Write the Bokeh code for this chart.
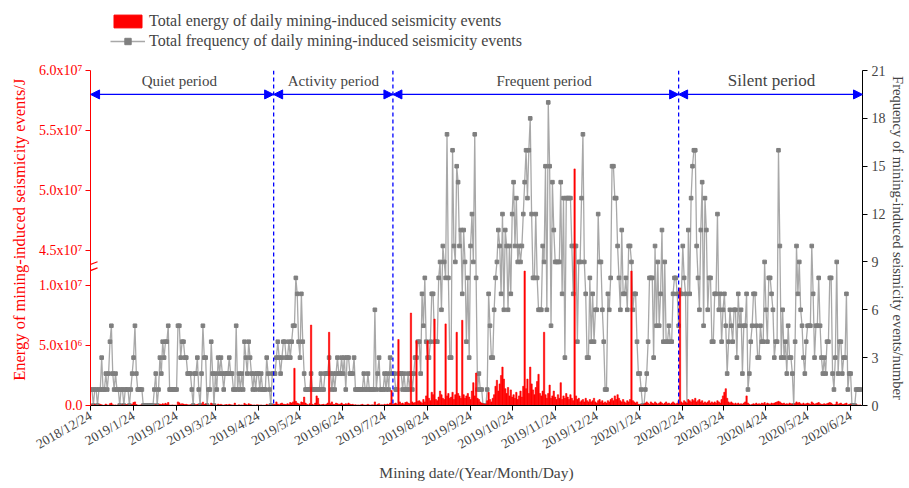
import pandas as pd
from bokeh.plotting import figure
from bokeh.layouts import column
from bokeh.models import (ColumnDataSource, Range1d, LinearAxis, FixedTicker, Span,
                          Arrow, NormalHead, Label, Legend, LegendItem)
from bokeh.embed import file_html
from bokeh.resources import INLINE

# ---------------- data ----------------
start_date = "2018-12-24"

# daily total frequency (events/day)
frequency = [
    1,1,0,1,1,0,1,1,3,1, 1,2,1,2,4,5,2,1,2,1, 1,0,1,1,0,1,1,1,0,1,
    2,3,5,2,1,1,1,1,0,0, 0,0,0,0,0,0,1,2,0,1, 3,2,4,3,4,4,5,1,1,1,
    1,1,1,5,5,3,4,4,3,3, 2,2,2,1,0,2,2,3,1,0, 2,5,3,3,0,1,1,4,2,0,
    2,1,3,2,
    3,2,1,2, 2,2,3,2, 2,1,1,5, 1,2,1,2,1, 4,3,2,4,3,
    2,1,2,1,2,2,1,2,1,1, 1,3,2,1,0,2,
    2,2,3,4,3,2,3,4,4,3,3,4,3,4,5,5, 8,7,4,3,7,4,2, 1,1,1,1,2,1,
    1,1,1,1,1,2,1,1,2,2, 2,3,2,1,2,1,2,3,2,2,3,2,3,
    1,3,3,2,2,2,3, 1,1,1,1,1,1,2,1,1, 2,1,1,1,1,6,1,2,3,1, 1,1,2,1,2,1,3,2,
    2,2,1,1,2,2,2,1,2,1,1,2, 1,2,1,2,3,3,4,4,2,7, 5,8,4,3,3,4,7,7,4,4,
    4,8,9,6,10,9,8,17,8,3, 3,16,10,9,15,14,10,11,7,11, 9,4,8,3,10,12,9,17,
    8,1,2,1,1,0,0,0,1,7,5,3, 3,6,8,9,11,10,7,12,6,11, 10,6,10,7,12,14,10,13,9,10,
    9,10,12,14,16,13,16,18,12,8, 8,12,8,6,6,6,10,9,15,6, 19,15,5,14,11,9,9,9,9,14,
    7,13,3,13,13,13,13,10,7,10, 10,4,9,9,13,17,9,7,3,3, 8,4,7,4,6,6,12,9,9,6,4,1,
    1,7,6,8,15,15,13,13,10,8, 6,11,7,7,8,6,10,10,9,6, 7,7,4,2,2,1,0,0,1,2,
    4,8,8,8,3,10,5,9,5,7, 11,4,9,4,4,5,4,4,7,8, 8,7,5,7,7,10,8,7,0,11,
    7,13,15,16,16,10,8,6,11,14, 5,13,11,6,8,8,4,4,7,7, 12,6,7,4,6,7,5,2,4,6,5,4,6,
    6,3,7,5,6,2,5,5,7,1, 2,4,5,7,7,5,3,3,5,4, 4,9,6,4,8,8,7,6,3,4,
    4,16,10,3,6,3,4,2,5,3, 3,2,0,4,10,7,9,6,5,3, 2,4,5,5,5,10,7,3,5,5,
    8,5,3,2,3,2,4,4,8,8, 2,1,3,9,2,4,4,2,3,3, 7,1,2,2,0,0,0,1,1,1,1,
]

# daily total energy, in units of 10^6 J
energy_1e6 = [
    0.02,0.05,0.0,0.08,0.03,0.0,0.04,0.1,0.06,0.02,
    0.03,0.12,0.05,0.02,0.15,0.2,0.06,0.03,0.05,0.02,
    0.04,0.0,0.03,0.06,0.0,0.05,0.08,0.03,0.0,0.04,
    0.1,0.25,0.3,0.08,0.04,0.02,0.05,0.03,0.0,0.0,
    0.0,0.0,0.0,0.0,0.0,0.0,0.03,0.06,0.0,0.02,
    0.12,0.08,0.15,0.1,0.18,0.12,0.25,0.04,0.03,0.05,
    0.03,0.04,0.02,0.3,0.22,0.1,0.15,0.12,0.08,0.1,
    0.06,0.05,0.07,0.03,0.0,0.05,0.06,0.1,0.03,0.0,
    0.06,0.28,0.1,0.12,0.0,0.03,0.04,0.2,0.06,0.0,
    0.05,0.03,0.12,0.06,0.1,0.05,0.03,0.06,0.08,0.05,
    0.1,0.06,0.05,0.03,0.2,0.03,0.02,0.06,0.03,0.05,
    0.02,0.18,0.1,0.05,0.15,0.1,0.06,0.03,0.05,0.02,
    0.06,0.05,0.03,0.05,0.02,0.03,0.02,0.1,0.05,0.03,
    0.0,0.05,0.08,0.1,0.3,0.12,0.06,0.15,0.2,0.1,
    0.1,0.08,0.15,0.1,0.25,0.2,0.3,3.1,0.35,0.2,
    0.15,0.1,0.3,0.25,0.7,0.2,0.1,0.05,0.15,6.7,
    0.1,0.05,0.2,0.8,0.6,0.1,0.05,0.08,0.1,0.05,
    0.1,0.2,6.1,0.15,0.3,0.1,0.08,0.2,0.15,0.1,
    0.12,0.2,0.1,0.08,0.15,0.1,0.2,0.12,0.08,0.1,
    0.05,0.06,0.04,0.05,0.03,0.06,0.1,0.05,0.04,0.05,
    0.1,0.05,0.04,0.06,0.05,0.3,0.05,0.1,0.15,0.05,
    0.06,0.05,0.1,0.06,0.12,0.08,0.2,1.25,0.1,0.15,
    0.2,0.1,5.5,0.3,0.15,0.2,0.1,0.25,0.3,0.2,
    0.15,7.7,0.3,0.2,0.25,5.4,0.35,0.4,0.3,0.2,
    0.5,0.3,0.8,5.4,0.6,0.4,1.1,0.9,7.2,0.5,
    0.4,0.7,1.2,0.9,0.6,0.5,6.8,0.8,1.0,0.6,
    0.7,1.1,0.5,0.9,6.1,1.0,0.8,0.6,7.1,0.9,
    0.6,0.8,1.0,0.7,0.5,1.2,1.9,0.8,2.7,0.6,
    0.5,0.3,0.2,0.15,0.1,0.1,0.4,1.1,0.5,0.3,
    0.6,0.9,1.6,2.1,1.2,1.8,2.5,3.2,2.2,1.4,
    1.0,1.5,0.8,1.3,0.7,0.9,0.6,1.1,0.5,0.8,
    1.2,0.7,1.6,11.2,1.4,2.2,1.0,3.2,1.8,1.3,
    0.9,1.5,2.0,2.6,1.0,0.8,1.2,6.1,0.9,0.6,
    1.0,1.7,0.6,0.8,1.2,0.7,0.5,0.9,0.6,1.9,
    0.5,0.8,0.6,1.0,0.7,0.5,0.9,0.6,0.4,51.8,
    0.8,0.5,0.6,0.3,0.4,0.5,0.3,0.6,0.4,0.3,
    0.5,0.3,0.4,0.6,0.3,0.2,0.4,0.5,0.3,0.4,
    0.2,0.3,0.2,0.4,0.3,0.5,0.6,0.4,0.8,0.5,
    0.9,0.6,0.4,0.3,0.5,0.3,0.2,0.4,0.3,0.5,
    11.2,0.4,0.3,0.2,0.3,0.1,0.1,0.05,0.05,0.1,
    0.2,0.3,0.2,0.1,0.3,0.2,0.15,0.3,0.2,0.1,
    0.2,0.3,0.2,0.1,0.2,0.3,0.15,0.2,0.1,0.2,
    0.3,0.2,0.1,0.2,0.4,9.8,0.3,0.2,0.4,0.3,
    0.2,0.5,0.4,0.3,0.5,0.4,0.6,0.3,0.4,0.5,
    0.3,0.4,0.2,0.3,0.2,0.3,0.4,0.2,0.3,0.2,
    0.3,0.2,0.4,0.3,0.2,0.5,0.8,1.1,1.4,0.6,
    0.3,0.2,0.3,0.2,0.1,0.2,0.1,0.2,0.1,0.15,
    0.1,0.2,0.3,0.8,0.2,0.1,0.05,0.1,0.15,0.1,
    0.2,0.1,0.15,0.1,0.2,0.15,0.25,0.1,0.2,0.15,
    0.1,0.2,0.15,0.2,0.25,0.3,0.35,0.3,0.2,0.15,
    0.2,0.1,0.15,0.1,0.2,0.15,0.1,0.0,0.15,0.3,
    0.2,0.25,0.15,0.1,0.2,0.1,0.15,0.2,0.15,0.1,
    0.3,0.2,0.1,0.15,0.2,0.25,0.15,0.1,0.1,0.15,
    0.1,0.15,0.2,0.25,0.2,0.1,0.05,0.1,0.3,0.1,
    0.15,0.2,0.1,0.1,0.15,0.2,0.05,0.1,0.1,0.0,
    0.0,0.0,0.05,0.05,0.03,0.05,
]

tick_dates = ["2018-12-24", "2019-01-24", "2019-02-24", "2019-03-24", "2019-04-24",
              "2019-05-24", "2019-06-24", "2019-07-24", "2019-08-24", "2019-09-24",
              "2019-10-24", "2019-11-24", "2019-12-24", "2020-01-24", "2020-02-24",
              "2020-03-24", "2020-04-24", "2020-05-24", "2020-06-24"]
tick_labels = ["2018/12/24", "2019/1/24", "2019/2/24", "2019/3/24", "2019/4/24",
               "2019/5/24", "2019/6/24", "2019/7/24", "2019/8/24", "2019/9/24",
               "2019/10/24", "2019/11/24", "2019/12/24", "2020/1/24", "2020/2/24",
               "2020/3/24", "2020/4/24", "2020/5/24", "2020/6/24"]

energy_ticks = [0.0, 5.0e6, 1.0e7, 4.5e7, 5.0e7, 5.5e7, 6.0e7]
energy_tick_labels = ["0.0", "5.0x10\u2076", "1.0x10\u2077", "4.5x10\u2077",
                      "5.0x10\u2077", "5.5x10\u2077", "6.0x10\u2077"]
freq_ticks = [0, 3, 6, 9, 12, 15, 18, 21]

period_names = ["Quiet period", "Activity period", "Frequent period", "Silent period"]
period_bounds = ["2018-12-24", "2019-05-05", "2019-07-30", "2020-02-21", "2020-07-02 14:00"]
period_label_dates = ["2019-02-26", "2019-06-17", "2019-11-16", "2020-04-28"]

legend_labels = ["Total energy of daily mining-induced seismicity events",
                 "Total frequency of daily mining-induced seismicity events"]

# ---------------- helpers ----------------
S = 0.7523        # axis units per 10^6 J (both segments share the same slope)
TOP = 21.0        # 6.0e7 J sits at the top of the frame


def energy_to_axis(e):
    m = e / 1e6
    if m <= 20:
        return round(m * S, 4)
    return round(TOP - (60.0 - m) * S, 4)


def ms(d):
    return pd.Timestamp(d).value / 1e6


DAY = 86400000.0
dates = pd.date_range(start_date, periods=len(frequency), freq="D")
energy = [v * 1e6 for v in energy_1e6]
src = ColumnDataSource(dict(date=dates, freq=frequency, energy=energy,
                            e_axis=[energy_to_axis(e) for e in energy]))

FONT = "Liberation Serif"
LINE_C = "#a8a8a8"
MARK_C = "#7f7f7f"

x_start = ms(start_date)
x_end = ms(period_bounds[-1])

# ---------------- main chart ----------------
p = figure(width=909, height=428, x_axis_type="datetime",
           x_range=Range1d(x_start - 0.05 * DAY, x_end), y_range=Range1d(0, 21),
           y_axis_location=None, toolbar_location=None, output_backend="svg",
           min_border_left=90, min_border_right=47, min_border_top=10, min_border_bottom=83)
p.outline_line_color = None
p.xgrid.visible = False
p.ygrid.visible = False
p.background_fill_color = "white"
p.border_fill_color = "white"

# frequency line + markers
p.line("date", "freq", source=src, line_color=LINE_C, line_width=1.3)
p.scatter("date", "freq", source=src, marker="square", size=3.6,
          fill_color=MARK_C, line_color=MARK_C)
# energy bars
p.vbar(x="date", top="e_axis", bottom=0, width=0.95 * DAY, source=src,
       fill_color="red", line_color="red", line_width=0.6)

# x axis
xa = p.xaxis[0]
tick_ms = [ms(d) for d in tick_dates]
xa.ticker = FixedTicker(ticks=tick_ms)
xa.major_label_overrides = {t: l for t, l in zip(tick_ms, tick_labels)}
xa.major_label_orientation = 0.52
xa.axis_label = "Mining date/(Year/Month/Day)"
xa.axis_label_text_font = FONT
xa.axis_label_text_font_size = "15.5px"
xa.axis_label_text_font_style = "normal"
xa.axis_label_standoff = 3
xa.major_label_text_font = FONT
xa.major_label_text_font_size = "13.5px"
xa.major_label_standoff = 4
xa.axis_line_color = "black"
xa.major_tick_line_color = "black"
xa.major_tick_out = 5
xa.major_tick_in = 0
xa.minor_tick_line_color = None

# left (energy, broken) axis
left_pos = [energy_to_axis(t) for t in energy_ticks]
la = LinearAxis(ticker=FixedTicker(ticks=left_pos),
                major_label_overrides={pp: l for pp, l in zip(left_pos, energy_tick_labels)},
                axis_label="\u00a0" * 4 + "Energy of mining-induced seismicity events/J")
for attr in ("axis_line_color", "major_tick_line_color", "major_label_text_color",
             "axis_label_text_color"):
    setattr(la, attr, "red")
la.minor_tick_line_color = None
la.major_tick_out = 5
la.major_tick_in = 0
la.major_label_text_font = FONT
la.major_label_text_font_size = "14px"
la.axis_label_text_font = FONT
la.axis_label_text_font_size = "16.5px"
la.axis_label_text_font_style = "normal"
la.axis_label_standoff = 7
la.major_label_standoff = 3
p.add_layout(la, "left")

# right (frequency) axis
ra = LinearAxis(ticker=FixedTicker(ticks=freq_ticks),
                axis_label="Frequency of mining-induced seismicity events/number")
ra.axis_line_color = "black"
ra.major_tick_line_color = "black"
ra.minor_tick_line_color = None
ra.major_tick_out = 5
ra.major_tick_in = 0
ra.major_label_text_font = FONT
ra.major_label_text_font_size = "14px"
ra.axis_label_text_font = FONT
ra.axis_label_text_font_size = "14.5px"
ra.axis_label_text_font_style = "normal"
ra.axis_label_standoff = 1
ra.major_label_standoff = 4
p.add_layout(ra, "right")

# axis break marks
for yc in (8.84, 8.46):
    p.add_layout(Arrow(start=None, end=None, x_start=x_start - 5.0 * DAY, x_end=x_start + 5.0 * DAY,
                       y_start=yc - 0.17, y_end=yc + 0.17, line_color="red", line_width=1.2))

# period dividers, arrows and names
bounds_ms = [ms(b) for b in period_bounds]
for b in bounds_ms[1:-1]:
    p.add_layout(Span(location=b, dimension="height", line_color="blue",
                      line_dash="4 3", line_width=1.3))
for a, b in zip(bounds_ms[:-1], bounds_ms[1:]):
    p.add_layout(Arrow(start=NormalHead(size=9, fill_color="blue", line_color="blue"),
                       end=NormalHead(size=9, fill_color="blue", line_color="blue"),
                       x_start=a, x_end=b, y_start=19.5, y_end=19.5,
                       line_color="blue", line_width=1.2))
for name, d in zip(period_names, period_label_dates):
    p.add_layout(Label(x=ms(d), y=20.35, text=name, text_align="center",
                       text_baseline="middle", text_font=FONT,
                       text_font_size="17px" if name.startswith("Silent") else "15px"))

# ---------------- legend strip above the chart ----------------
lg = figure(width=909, height=60, x_range=Range1d(0, 1), y_range=Range1d(0, 1),
            x_axis_location=None, y_axis_location=None, toolbar_location=None,
            output_backend="svg", min_border_left=90, min_border_top=0,
            min_border_right=47, min_border_bottom=0)
lg.outline_line_color = None
lg.xgrid.visible = False
lg.ygrid.visible = False
# legend keys only: a single zero-size sample well outside this strip's visible range
keys = ColumnDataSource(dict(x=[-50.0], y=[-50.0]))
bar_key = lg.vbar(x="x", top="y", bottom="y", width=0.001, source=keys,
                  fill_color="red", line_color="red")
line_key = lg.line("x", "y", source=keys, line_color=LINE_C, line_width=1.3)
pt_key = lg.scatter("x", "y", source=keys, marker="square", size=3.6,
                    fill_color=MARK_C, line_color=MARK_C)
legend = Legend(items=[LegendItem(label=legend_labels[0], renderers=[bar_key], index=0),
                       LegendItem(label=legend_labels[1], renderers=[line_key, pt_key], index=0)],
                location=(20, 10), orientation="vertical")
legend.border_line_color = None
legend.background_fill_alpha = 0
legend.label_text_font = FONT
legend.label_text_font_size = "16px"
legend.glyph_width = 35
legend.glyph_height = 16
legend.spacing = 2
legend.padding = 2
legend.margin = 0
legend.label_standoff = 4
lg.add_layout(legend, "center")

open("out.html", "w").write(file_html(column(lg, p, spacing=0), INLINE))
